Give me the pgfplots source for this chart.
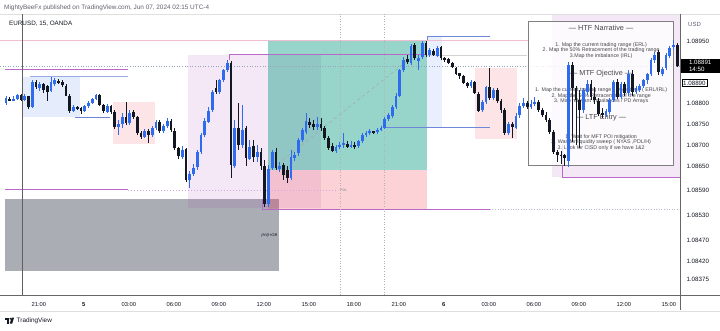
\documentclass[border=0pt]{standalone}
\usepackage{fontspec}
\setmainfont{Liberation Sans}
\usepackage{pgfplots}
\pgfplotsset{compat=1.18}
\usepackage{pgfplotstable}

\definecolor{upc}{HTML}{2E6BEF}
\definecolor{dnc}{HTML}{131722}
\definecolor{redc}{RGB}{242,54,69}
\definecolor{greenc}{RGB}{8,153,129}
\definecolor{purc}{RGB}{156,39,176}
\definecolor{purline}{RGB}{186,104,200}
\definecolor{bluel}{RGB}{110,135,215}
\definecolor{boxgray}{RGB}{120,123,134}
\definecolor{pinkline}{RGB}{240,190,210}
\definecolor{dotline}{RGB}{150,165,190}
\definecolor{headgray}{RGB}{95,98,110}
\definecolor{boxborder}{RGB}{128,128,128}
\definecolor{txtgray}{RGB}{70,70,70}

\pgfplotstableread{
k o h l c
0 1.08802 1.08819 1.08797 1.08814
2 1.08809 1.08819 1.08807 1.08814
3 1.08812 1.08824 1.08809 1.08821
5 1.08809 1.08824 1.08807 1.08819
7 1.08793 1.08858 1.08790 1.08853
9 1.08838 1.08853 1.08833 1.08848
12 1.08833 1.08865 1.08829 1.08853
13 1.08848 1.08862 1.08843 1.08858
18 1.08783 1.08797 1.08780 1.08793
21 1.08783 1.08797 1.08780 1.08795
22 1.08795 1.08807 1.08790 1.08802
23 1.08802 1.08814 1.08800 1.08812
24 1.08812 1.08824 1.08809 1.08821
27 1.08780 1.08800 1.08778 1.08795
30 1.08744 1.08761 1.08725 1.08752
31 1.08752 1.08778 1.08742 1.08768
33 1.08754 1.08785 1.08749 1.08780
37 1.08720 1.08740 1.08718 1.08735
39 1.08725 1.08747 1.08720 1.08742
40 1.08742 1.08761 1.08737 1.08756
42 1.08735 1.08752 1.08730 1.08747
43 1.08747 1.08766 1.08742 1.08759
47 1.08672 1.08698 1.08667 1.08691
49 1.08616 1.08640 1.08599 1.08631
50 1.08631 1.08655 1.08626 1.08647
51 1.08647 1.08689 1.08640 1.08684
52 1.08684 1.08730 1.08679 1.08725
53 1.08725 1.08766 1.08720 1.08759
54 1.08759 1.08793 1.08754 1.08785
55 1.08785 1.08833 1.08780 1.08829
57 1.08829 1.08862 1.08824 1.08858
58 1.08858 1.08886 1.08853 1.08882
59 1.08882 1.08906 1.08877 1.08899
61 1.08652 1.08761 1.08645 1.08742
63 1.08701 1.08797 1.08694 1.08737
65 1.08669 1.08713 1.08664 1.08698
67 1.08672 1.08701 1.08660 1.08684
70 1.08560 1.08652 1.08551 1.08645
71 1.08645 1.08689 1.08640 1.08684
73 1.08645 1.08660 1.08635 1.08652
76 1.08621 1.08689 1.08616 1.08672
77 1.08669 1.08684 1.08664 1.08676
78 1.08681 1.08718 1.08676 1.08713
79 1.08713 1.08742 1.08708 1.08737
80 1.08732 1.08778 1.08728 1.08759
83 1.08744 1.08768 1.08737 1.08752
88 1.08686 1.08701 1.08681 1.08696
89 1.08696 1.08708 1.08691 1.08701
90 1.08701 1.08730 1.08694 1.08706
92 1.08698 1.08711 1.08694 1.08703
94 1.08698 1.08713 1.08694 1.08711
95 1.08711 1.08730 1.08706 1.08725
96 1.08725 1.08735 1.08720 1.08730
97 1.08730 1.08740 1.08725 1.08735
99 1.08732 1.08742 1.08728 1.08737
100 1.08737 1.08747 1.08735 1.08742
101 1.08742 1.08768 1.08740 1.08764
102 1.08764 1.08778 1.08759 1.08773
103 1.08771 1.08797 1.08766 1.08793
104 1.08793 1.08826 1.08788 1.08821
105 1.08821 1.08886 1.08817 1.08882
106 1.08882 1.08913 1.08877 1.08908
108 1.08901 1.08947 1.08896 1.08942
110 1.08906 1.08918 1.08882 1.08913
111 1.08913 1.08952 1.08908 1.08947
113 1.08918 1.08935 1.08913 1.08930
115 1.08918 1.08940 1.08913 1.08937
124 1.08843 1.08858 1.08838 1.08853
127 1.08785 1.08809 1.08780 1.08805
128 1.08805 1.08845 1.08800 1.08841
130 1.08814 1.08838 1.08809 1.08833
134 1.08730 1.08756 1.08725 1.08752
136 1.08744 1.08778 1.08740 1.08773
137 1.08773 1.08802 1.08766 1.08795
138 1.08795 1.08814 1.08790 1.08802
140 1.08793 1.08809 1.08788 1.08800
141 1.08800 1.08817 1.08795 1.08805
150 1.08664 1.08901 1.08647 1.08894
154 1.08785 1.08838 1.08778 1.08833
155 1.08829 1.08858 1.08821 1.08848
160 1.08773 1.08788 1.08768 1.08783
161 1.08780 1.08814 1.08776 1.08809
162 1.08809 1.08858 1.08805 1.08853
164 1.08817 1.08853 1.08812 1.08848
166 1.08826 1.08882 1.08821 1.08874
168 1.08829 1.08845 1.08824 1.08838
169 1.08833 1.08848 1.08829 1.08843
170 1.08843 1.08862 1.08838 1.08858
171 1.08858 1.08877 1.08850 1.08872
172 1.08872 1.08911 1.08867 1.08906
173 1.08906 1.08925 1.08899 1.08918
175 1.08872 1.08891 1.08867 1.08886
176 1.08886 1.08923 1.08882 1.08918
177 1.08918 1.08942 1.08913 1.08937
178 1.08937 1.08954 1.08932 1.08942
}\upcandles

\pgfplotstableread{
k o h l c
1 1.08814 1.08817 1.08807 1.08809
4 1.08821 1.08824 1.08807 1.08809
6 1.08819 1.08821 1.08790 1.08793
8 1.08853 1.08858 1.08836 1.08841
10 1.08848 1.08850 1.08826 1.08833
11 1.08843 1.08848 1.08809 1.08829
14 1.08855 1.08860 1.08848 1.08853
15 1.08853 1.08858 1.08841 1.08845
16 1.08845 1.08848 1.08819 1.08821
17 1.08821 1.08824 1.08780 1.08783
19 1.08793 1.08795 1.08785 1.08790
20 1.08790 1.08793 1.08778 1.08783
25 1.08821 1.08824 1.08795 1.08797
26 1.08797 1.08800 1.08778 1.08783
28 1.08795 1.08797 1.08776 1.08780
29 1.08780 1.08785 1.08740 1.08744
32 1.08768 1.08805 1.08749 1.08754
34 1.08780 1.08785 1.08764 1.08768
35 1.08768 1.08771 1.08725 1.08730
36 1.08730 1.08735 1.08715 1.08720
38 1.08735 1.08740 1.08706 1.08725
41 1.08756 1.08761 1.08730 1.08735
44 1.08759 1.08764 1.08732 1.08737
45 1.08737 1.08742 1.08689 1.08694
46 1.08694 1.08698 1.08669 1.08676
48 1.08691 1.08694 1.08611 1.08616
56 1.08838 1.08858 1.08824 1.08829
60 1.08899 1.08903 1.08621 1.08652
62 1.08742 1.08802 1.08689 1.08701
64 1.08742 1.08749 1.08652 1.08669
66 1.08698 1.08713 1.08660 1.08672
68 1.08684 1.08694 1.08640 1.08650
69 1.08650 1.08664 1.08551 1.08560
72 1.08684 1.08694 1.08640 1.08645
74 1.08652 1.08657 1.08616 1.08628
75 1.08640 1.08652 1.08611 1.08621
81 1.08756 1.08766 1.08742 1.08749
82 1.08752 1.08761 1.08737 1.08744
84 1.08752 1.08766 1.08735 1.08742
85 1.08742 1.08747 1.08713 1.08718
86 1.08718 1.08723 1.08689 1.08694
87 1.08698 1.08706 1.08684 1.08686
91 1.08706 1.08711 1.08694 1.08698
93 1.08703 1.08708 1.08691 1.08698
98 1.08735 1.08737 1.08728 1.08732
107 1.08908 1.08918 1.08896 1.08901
109 1.08942 1.08947 1.08906 1.08911
112 1.08947 1.08952 1.08913 1.08918
114 1.08928 1.08932 1.08915 1.08920
116 1.08937 1.08940 1.08906 1.08911
117 1.08911 1.08915 1.08903 1.08908
118 1.08908 1.08911 1.08896 1.08899
119 1.08899 1.08901 1.08886 1.08889
120 1.08889 1.08891 1.08872 1.08874
121 1.08874 1.08877 1.08862 1.08867
122 1.08867 1.08870 1.08848 1.08850
123 1.08850 1.08853 1.08838 1.08843
125 1.08853 1.08855 1.08824 1.08826
126 1.08826 1.08829 1.08780 1.08785
129 1.08841 1.08886 1.08809 1.08814
131 1.08833 1.08838 1.08802 1.08807
132 1.08807 1.08812 1.08780 1.08785
133 1.08785 1.08790 1.08725 1.08730
135 1.08752 1.08756 1.08718 1.08744
139 1.08802 1.08807 1.08788 1.08793
142 1.08805 1.08809 1.08780 1.08785
143 1.08785 1.08790 1.08768 1.08773
144 1.08773 1.08780 1.08756 1.08761
145 1.08761 1.08766 1.08728 1.08732
146 1.08732 1.08737 1.08679 1.08684
147 1.08684 1.08689 1.08660 1.08679
148 1.08679 1.08686 1.08655 1.08676
149 1.08676 1.08681 1.08652 1.08669
151 1.08894 1.08901 1.08708 1.08838
152 1.08838 1.08845 1.08701 1.08809
153 1.08809 1.08833 1.08694 1.08785
156 1.08848 1.08858 1.08809 1.08817
157 1.08817 1.08843 1.08802 1.08809
158 1.08809 1.08814 1.08771 1.08778
159 1.08778 1.08790 1.08766 1.08773
163 1.08853 1.08862 1.08812 1.08817
165 1.08848 1.08853 1.08821 1.08826
167 1.08874 1.08882 1.08821 1.08829
174 1.08925 1.08930 1.08870 1.08877
179 1.08942 1.08947 1.08889 1.08891
}\dncandles

\pgfplotsset{
  wick/.style={draw=none, mark=none, forget plot, error bars/.cd, y dir=both, y explicit, error mark=none,
    error bar style={line width=0.6pt, draw=#1, solid}},
  body/.style={draw=none, mark=none, forget plot, error bars/.cd, y dir=both, y explicit, error mark=none,
    error bar style={line width=2.7pt, draw=#1, solid, line cap=butt}},
}

\begin{document}
\begin{tikzpicture}[x=1pt,y=1pt]
\useasboundingbox (0,0) rectangle (720,330);
\fill[white] (0,0) rectangle (720,330);
% header
\node[anchor=west, inner sep=0, text=headgray, font=\fontsize{6.4}{7}\selectfont] at (4,322) {MightyBeeFx published on TradingView.com, Jun 07, 2024 02:15 UTC-4};
\draw[gray!25, line width=0.5] (0,316) -- (720,316);
\draw[gray!25, line width=0.5] (0,19) -- (720,19);

\begin{axis}[
  at={(0pt,35pt)}, anchor=south west,
  scale only axis, width=680pt, height=281pt,
  xmin=-1.6, xmax=179.73, ymin=1.083383, ymax=1.090169,
  axis line style={draw=none},
  clip mode=individual,
  major tick length=0pt, tick style={draw=none},
  xtick={8.75,20.75,32.75,44.75,56.75,68.75,80.75,92.75,104.75,116.75,128.75,140.75,152.75,164.75,176.75},
  xticklabels={21:00,\textbf{5},03:00,06:00,09:00,12:00,15:00,18:00,21:00,\textbf{6},03:00,06:00,09:00,12:00,15:00},
  xticklabel style={font=\fontsize{5.8}{6}\selectfont, text=dnc, yshift=-4pt},
  ytick={1.08375,1.08420,1.08470,1.08530,1.08590,1.08650,1.08700,1.08750,1.08800,1.08950},
  yticklabels={1.08375,1.08420,1.08470,1.08530,1.08590,1.08650,1.08700,1.08750,1.08800,1.08950},
  yticklabel pos=right,
  yticklabel style={font=\fontsize{6.2}{7}\selectfont, text=dnc, anchor=west, xshift=3pt},
]
% background zones
\fill[boxgray, opacity=0.62] (axis cs:-0.27,1.08570) rectangle (axis cs:72.8,1.08396);
\fill[upc, opacity=0.12] (axis cs:4.5,1.08865) rectangle (axis cs:19.7,1.08768);
\fill[redc, opacity=0.13] (axis cs:28.5,1.08805) rectangle (axis cs:39.7,1.08703);
\fill[purc, opacity=0.10] (axis cs:48.5,1.08918) rectangle (axis cs:84,1.08548);
\fill[greenc, opacity=0.42] (axis cs:69.9,1.08954) rectangle (axis cs:112.3,1.08640);
\fill[redc, opacity=0.22] (axis cs:69.9,1.08640) rectangle (axis cs:112.3,1.08544);
\fill[upc, opacity=0.10] (axis cs:112.3,1.08962) rectangle (axis cs:116.3,1.08742);
\fill[redc, opacity=0.13] (axis cs:125,1.08886) rectangle (axis cs:136.3,1.08716);
\fill[purc, opacity=0.10] (axis cs:145.6,1.09015) rectangle (axis cs:179.73,1.08623);
% horizontal lines
\draw[pinkline, line width=0.5] (axis cs:-1.6,1.08954) -- (axis cs:139.7,1.08954);
\draw[dotline, dotted, line width=0.6] (axis cs:-1.6,1.08891) -- (axis cs:179.73,1.08891);
\draw[purline, line width=0.9] (axis cs:-0.27,1.08882) -- (axis cs:32.5,1.08882);
\draw[bluel!70, line width=0.9] (axis cs:6.4,1.08865) -- (axis cs:32.5,1.08865);
\draw[bluel, line width=0.6] (axis cs:18.4,1.08768) -- (axis cs:27.7,1.08768);
\draw[purline, line width=0.9] (axis cs:-0.27,1.08592) -- (axis cs:32.5,1.08592);
\draw[purline!60, line width=0.5, dash pattern=on 1.5pt off 1.5pt] (axis cs:32.5,1.08592) -- (axis cs:88.5,1.08592);
\node[anchor=west, inner sep=1pt, text=gray, font=\fontsize{3.5}{4}\selectfont] at (axis cs:88.8,1.08592) {PDL};
\draw[purline, line width=0.9] (axis cs:59.7,1.08905) -- (axis cs:59.7,1.08918) -- (axis cs:112.3,1.08918);
\draw[gray!35, line width=0.5] (axis cs:112.3,1.08918) -- (axis cs:138.9,1.08918);
\draw[purline, line width=0.9] (axis cs:68.3,1.08570) -- (axis cs:68.3,1.08544) -- (axis cs:129,1.08544);
\draw[dotline!70, dotted, line width=0.6] (axis cs:129,1.08546) -- (axis cs:179.73,1.08546);
\draw[bluel, line width=0.8] (axis cs:112.3,1.08954) -- (axis cs:112.3,1.08962) -- (axis cs:129,1.08962);
\draw[bluel, line width=0.8] (axis cs:100.5,1.08742) -- (axis cs:129,1.08742);
\draw[purline, line width=0.9] (axis cs:148.3,1.08701) -- (axis cs:148.3,1.08623) -- (axis cs:179.73,1.08623);
\draw[gray!70, dashed, line width=0.5] (axis cs:72.5,1.08655) -- (axis cs:108.3,1.08913);
% vertical lines
\draw[gray!75!black, line width=0.6] (axis cs:4.27,1.083383) -- (axis cs:4.27,1.090169);
\draw[gray!60, dotted, line width=0.6] (axis cs:89.07,1.083383) -- (axis cs:89.07,1.090169);
\draw[gray!60, dotted, line width=0.6] (axis cs:100.8,1.083383) -- (axis cs:100.8,1.090169);
\node[anchor=east, inner sep=0.5pt, font=\fontsize{4}{4.5}\selectfont\itshape, text=dnc] at (axis cs:72.5,1.08483) {(H4)+OB};
% text box
\fill[white, opacity=0.8] (axis cs:139.2,1.09000) rectangle (axis cs:178.1,1.08652);
\draw[boxborder, line width=0.8] (axis cs:139.2,1.09000) rectangle (axis cs:178.1,1.08652);
\begin{scope}[every node/.style={inner sep=0, text=txtgray, font=\fontsize{5.3}{6}\selectfont}]
\node[font=\fontsize{7.3}{8}\selectfont] at (axis cs:158.7,1.08983) {— HTF Narrative —};
\node at (axis cs:158.7,1.08942) {1. Map the current trading range (ERL)};
\node at (axis cs:158.7,1.08929) {2. Map the 50\% Retracement  of the trading range};
\node at (axis cs:158.7,1.08914) {3.Map the imbalance (IRL)};
\node[font=\fontsize{7.3}{8}\selectfont] at (axis cs:158.7,1.08874) {— MTF Ojective —};
\node at (axis cs:158.7,1.08832) {1. Map the current trading range / Objectives ( ERL/IRL)};
\node at (axis cs:158.7,1.08819) {2. Map the 50\% Retracement of the range};
\node at (axis cs:158.7,1.08806) {3. Map relevant Imbalances / PD Arrays};
\node[font=\fontsize{7.3}{8}\selectfont] at (axis cs:158.7,1.08766) {— LTF Entry —};
\node at (axis cs:158.7,1.08720) {1. Wait for MFT POI mitigation};
\node at (axis cs:158.7,1.08708) {2. Wait for liquidity sweep ( NYAS ,PDL/H)};
\node at (axis cs:158.7,1.08694) {3. Look for CISD only if we have 1\&2};
\end{scope}
% candles: wick = high..low, body = open..close
\addplot[wick=upc] table[x=k, y expr={(\thisrow{h}+\thisrow{l})/2}, y error expr={(\thisrow{h}-\thisrow{l})/2}] {\upcandles};
\addplot[body=upc] table[x=k, y expr={(\thisrow{o}+\thisrow{c})/2}, y error expr={(\thisrow{c}-\thisrow{o})/2}] {\upcandles};
\addplot[wick=dnc] table[x=k, y expr={(\thisrow{h}+\thisrow{l})/2}, y error expr={(\thisrow{h}-\thisrow{l})/2}] {\dncandles};
\addplot[body=dnc] table[x=k, y expr={(\thisrow{o}+\thisrow{c})/2}, y error expr={(\thisrow{o}-\thisrow{c})/2}] {\dncandles};
% price labels
\node[anchor=west, fill=black, text=white, inner sep=1.2pt, align=left, minimum width=40pt, font=\fontsize{6.2}{7.4}\selectfont] at (axis cs:179.73,1.08891) {1.08891\\14:50};
\node[anchor=west, fill=white, draw=black, line width=0.5, text=dnc, inner sep=1.2pt, font=\fontsize{6.2}{7}\selectfont] at (axis cs:180.2,1.08850) {1.08890};
\end{axis}
% axis frame lines
\draw[gray!80!black, line width=0.8] (0,35) -- (720,35);
\draw[gray!80!black, line width=0.8] (680,20) -- (680,316);
\node[anchor=west, inner sep=0, text=dnc, font=\fontsize{6.3}{7}\selectfont] at (9,306) {EURUSD, 15, OANDA};
\node[anchor=west, inner sep=0, text=headgray, font=\fontsize{6}{7}\selectfont] at (688,306) {USD};
% footer logo and text
\fill[dnc] (5,10.5) rectangle (8.8,12.3);
\fill[dnc] (6.9,6.5) rectangle (8.8,12.3);
\fill[dnc] (10.3,11.3) circle (1);
\fill[dnc] (11.6,12.3) -- (14,12.3) -- (12.2,6.5) -- (9.8,6.5) -- cycle;
\node[anchor=west, inner sep=0, text=dnc, font=\fontsize{6.4}{7}\selectfont] at (16.5,9.3) {TradingView};
\end{tikzpicture}
\end{document}
